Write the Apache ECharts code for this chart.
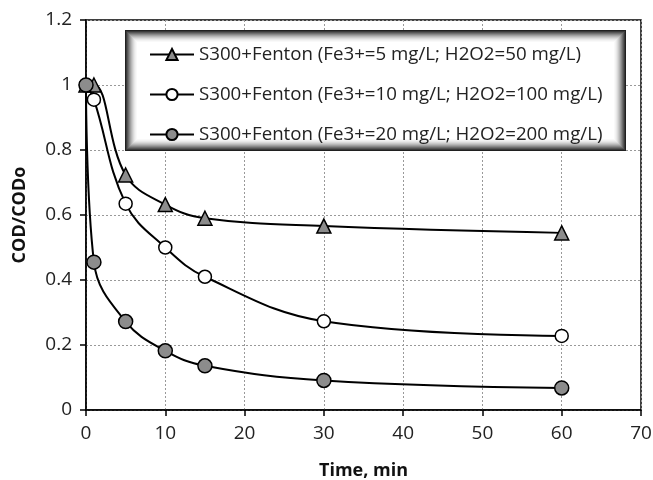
<!DOCTYPE html>
<html><head><meta charset="utf-8">
<script src="https://cdn.jsdelivr.net/npm/echarts@6/dist/echarts.min.js"></script>
<style>html,body{margin:0;padding:0;background:#fff}#c{width:653px;height:480px}</style>
</head><body><div id="c"></div>
<script>
const seriesNames = [
  'S300+Fenton (Fe3+=5 mg/L; H2O2=50 mg/L)',
  'S300+Fenton (Fe3+=10 mg/L; H2O2=100 mg/L)',
  'S300+Fenton (Fe3+=20 mg/L; H2O2=200 mg/L)'
];
const timeMin = [0, 1, 5, 10, 15, 30, 60];
const codLow = [1, 1.0, 0.723, 0.632, 0.59, 0.566, 0.545];
const codMid = [1, 0.955, 0.635, 0.5, 0.41, 0.273, 0.228];
const codHigh = [1, 0.455, 0.272, 0.182, 0.136, 0.091, 0.068];
const xTicks = [0, 10, 20, 30, 40, 50, 60, 70];
const yTicks = [0, 0.2, 0.4, 0.6, 0.8, 1, 1.2];

const chart = echarts.init(document.getElementById('c'), null, {renderer: 'canvas'});
const font = "'Open Sans', 'Noto Sans', sans-serif";

function pairs(ys){ return timeMin.map((t,i)=>[t, ys[i]]); }

// legend box with inset shading
const box = {x: 125, y: 30, w: 501, h: 121};
const shades = ['#202020','#3a3a3a','#555','#6e6e6e','#888','#a0a0a0','#b6b6b6','#c9c9c9','#dadada','#e8e8e8','#f2f2f2','#f9f9f9','#ffffff'];
const boxGraphics = shades.map((c, i) => ({
  type: 'rect', z: 5,
  shape: {x: box.x + i, y: box.y + i, width: box.w - 2*i, height: box.h - 2*i},
  style: {fill: c}
}));

const baseSeries = {
  type: 'line', smooth: 0.4,
  lineStyle: {color: '#000', width: 2},
  emphasis: {disabled: true}
};

chart.setOption({
  animation: false,
  textStyle: {fontFamily: font},
  grid: {left: 86, right: 12, top: 20, bottom: 70, show: true, borderColor: '#000', borderWidth: 1.5,
         containLabel: false, outerBoundsMode: 'none'},
  graphic: boxGraphics,
  legend: {
    orient: 'vertical', left: 144, top: 40, z: 10,
    itemWidth: 44, itemHeight: 14, itemGap: 21,
    textStyle: {fontFamily: font, fontSize: 18.7, lineHeight: 19, color: '#222'},
    data: seriesNames
  },
  xAxis: {
    type: 'value', min: 0, max: 70, interval: 10,
    name: 'Time, min', nameLocation: 'middle', nameGap: 52,
    nameTextStyle: {fontFamily: font, fontSize: 18, fontWeight: 'bold', color: '#111'},
    axisLine: {lineStyle: {color: '#000', width: 1.5}},
    axisTick: {show: true, inside: false, length: 6, lineStyle: {color: '#000', width: 1.5}},
    axisLabel: {fontSize: 19, color: '#222', margin: 14, formatter: v => xTicks.includes(v) ? String(v) : ''},
    splitLine: {show: true, lineStyle: {color: '#999', type: [2, 2], width: 1}}
  },
  yAxis: {
    type: 'value', min: 0, max: 1.2, interval: 0.2,
    name: 'COD/CODo', nameLocation: 'middle', nameGap: 57, nameRotate: 90,
    nameTextStyle: {fontFamily: font, fontSize: 18, fontWeight: 'bold', color: '#111'},
    axisLine: {show: true, lineStyle: {color: '#000', width: 1.5}},
    axisTick: {show: true, inside: false, length: 6, lineStyle: {color: '#000', width: 1.5}},
    axisLabel: {fontSize: 19, color: '#222', margin: 14,
      formatter: v => { const m = yTicks.find(t => Math.abs(t - v) < 1e-9); return m === undefined ? '' : String(m); }},
    splitLine: {show: true, lineStyle: {color: '#999', type: [2, 2], width: 1}}
  },
  series: [
    Object.assign({}, baseSeries, {name: seriesNames[0], data: pairs(codLow), symbol: 'triangle', symbolSize: 14,
      itemStyle: {color: '#8c8c8c', borderColor: '#000', borderWidth: 1.5}, z: 2}),
    Object.assign({}, baseSeries, {name: seriesNames[1], data: pairs(codMid), symbol: 'circle', symbolSize: 13,
      itemStyle: {color: '#fff', borderColor: '#000', borderWidth: 1.5}, z: 3}),
    Object.assign({}, baseSeries, {name: seriesNames[2], data: pairs(codHigh), symbol: 'circle', symbolSize: 14,
      itemStyle: {color: '#8c8c8c', borderColor: '#000', borderWidth: 1.5}, z: 4})
  ]
});
</script></body></html>
